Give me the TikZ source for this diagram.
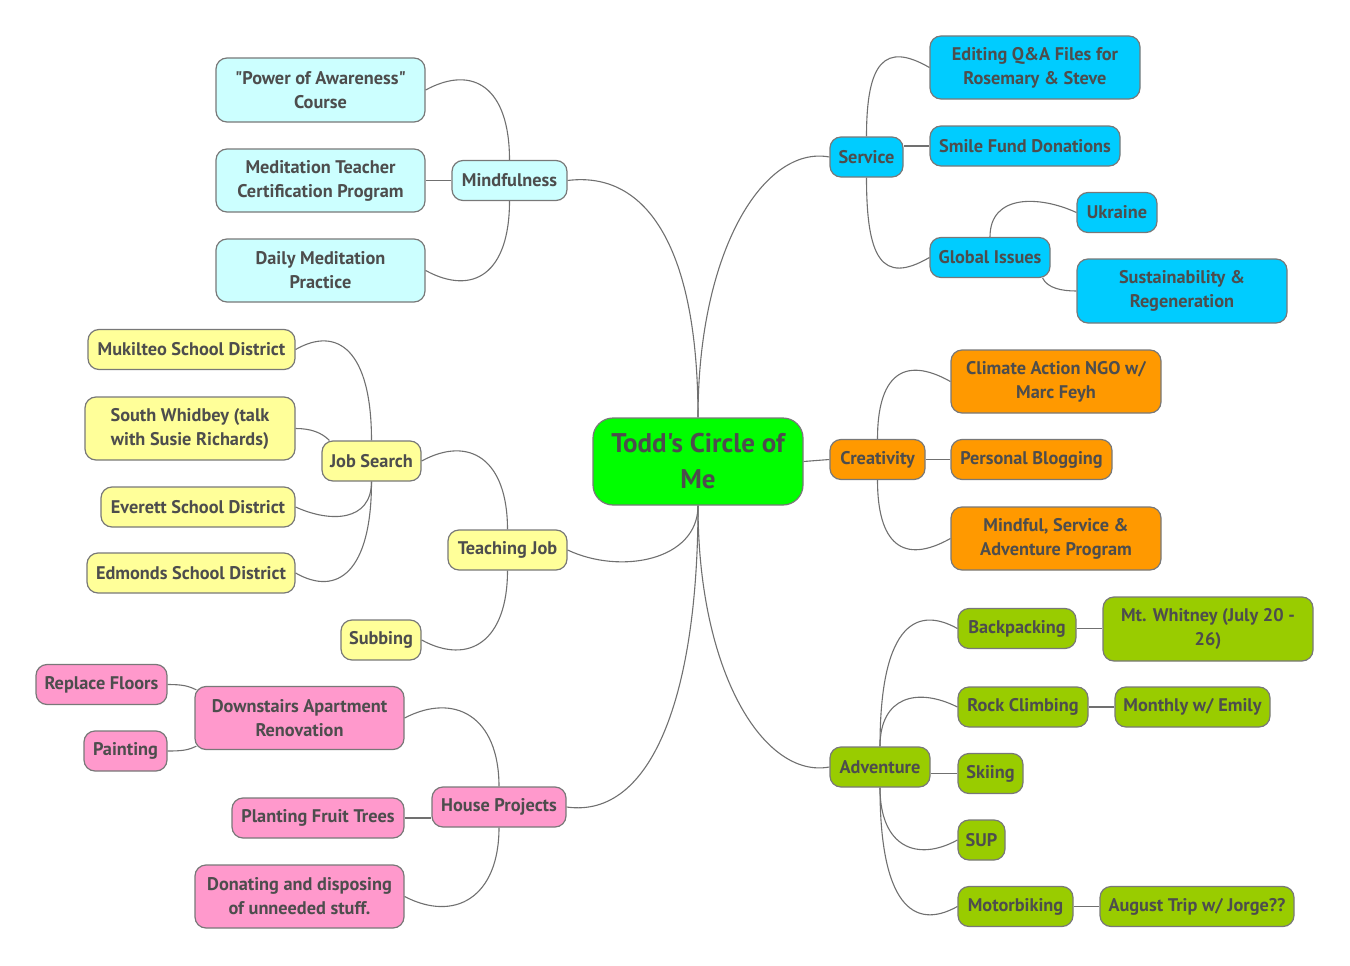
\documentclass[tikz,border=0pt]{standalone}
\usepackage{fontspec}
\setmainfont{PT Sans}[Ligatures=TeXOff]

\definecolor{textgray}{HTML}{4D4D4D}
\definecolor{boxgray}{HTML}{787878}
\definecolor{linegray}{HTML}{707070}
\definecolor{rootgreen}{HTML}{00FF00}
\definecolor{servicecyan}{HTML}{00CCFF}
\definecolor{creativeorange}{HTML}{FF9900}
\definecolor{adventuregreen}{HTML}{99CC00}
\definecolor{mindcyan}{HTML}{CCFFFF}
\definecolor{teachyellow}{HTML}{FFFF99}
\definecolor{housepink}{HTML}{FF99CC}

\begin{document}
\begin{tikzpicture}[x=1pt, y=1pt,
    topic/.style={draw=boxgray, line width=1.2pt, rounded corners=11pt,
        inner sep=0pt, minimum height=40, align=center, text=textgray,
        font=\fontsize{18.3}{24}\selectfont\bfseries},
    rootbox/.style={topic, fill=rootgreen, rounded corners=20pt,
        font=\fontsize{27}{36}\selectfont\bfseries},
    servicebox/.style={topic, fill=servicecyan},
    creativebox/.style={topic, fill=creativeorange},
    adventurebox/.style={topic, fill=adventuregreen},
    mindbox/.style={topic, fill=mindcyan},
    teachbox/.style={topic, fill=teachyellow},
    housebox/.style={topic, fill=housepink},
    link/.style={draw=linegray, line width=1.1pt},
  ]
    \def\hd{63};
    \useasboundingbox (0,0) rectangle (1350,-966);

% centre
    \node[rootbox, minimum width=210, minimum height=87] (root) at (698,-461.5) {Todd's Circle of\\Me};

% service
    \node[servicebox, minimum width=73] (service) at (866.5,-157) {Service};
    \node[servicebox, minimum width=210, minimum height=\hd] (editing) at (1035,-67.5) {Editing Q\&A Files for\\Rosemary \& Steve};
    \node[servicebox, minimum width=190] (smile) at (1025,-146) {Smile Fund Donations};
    \node[servicebox, minimum width=120] (global) at (990,-257.5) {Global Issues};
    \node[servicebox, minimum width=80] (ukraine) at (1117,-212.5) {Ukraine};
    \node[servicebox, minimum width=210, minimum height=64] (sustain) at (1182,-291) {Sustainability \&\\Regeneration};

    \draw[link] (root.north) .. controls +(0,168) and +(-65,12) .. (service.west);
    \draw[link] (service.north) .. controls +(0,74) and +(-45,26) .. (editing.west);
    \draw[link] (service.east |- smile.west) -- (smile.west);
    \draw[link] (service.south) .. controls +(0,-80) and +(-48,-28) .. (global.west);
    \draw[link] (global.north) .. controls +(0,43) and +(-37,17) .. (ukraine.west);
    \draw[link] ([xshift=-8pt]global.south east) .. controls +(5,-10) and +(-15,0) .. (sustain.west);

% creativity
    \node[creativebox, minimum width=95] (creativity) at (877.5,-459.5) {Creativity};
    \node[creativebox, minimum width=210, minimum height=\hd] (climate) at (1056,-381.5) {Climate Action NGO w/\\Marc Feyh};
    \node[creativebox, minimum width=161] (blogging) at (1031.5,-459.5) {Personal Blogging};
    \node[creativebox, minimum width=210, minimum height=\hd] (mindprog) at (1056,-538.5) {Mindful, Service \&\\Adventure Program};

    \draw[link] (root.east) -- (creativity.west);
    \draw[link] (creativity.north) .. controls +(0,62) and +(-48,27) .. (climate.west);
    \draw[link] (creativity.east) -- (blogging.west);
    \draw[link] (creativity.south) .. controls +(0,-63) and +(-48,-27) .. (mindprog.west);

% adventure
    \node[adventurebox, minimum width=100] (adventure) at (880,-767) {Adventure};
    \node[adventurebox, minimum width=118] (backpacking) at (1017,-628.5) {Backpacking};
    \node[adventurebox, minimum width=210, minimum height=64] (whitney) at (1208,-629) {Mt. Whitney (July 20 -\\26)};
    \node[adventurebox, minimum width=130] (rock) at (1023,-707) {Rock Climbing};
    \node[adventurebox, minimum width=155] (monthly) at (1192.5,-707) {Monthly w/ Emily};
    \node[adventurebox, minimum width=65] (skiing) at (990.5,-773.5) {Skiing};
    \node[adventurebox, minimum width=47] (sup) at (981.5,-840) {SUP};
    \node[adventurebox, minimum width=115] (motorbiking) at (1015.5,-906.5) {Motorbiking};
    \node[adventurebox, minimum width=194] (august) at (1197,-906.5) {August Trip w/ Jorge??};

    \draw[link] (root.south) .. controls +(0,-168) and +(-65,-12) .. (adventure.west);
    \draw[link] (adventure.north) .. controls +(0,115) and +(-45,25) .. (backpacking.west);
    \draw[link] (adventure.north) .. controls +(0,50) and +(-40,20) .. (rock.west);
    \draw[link] (adventure.east |- skiing.west) -- (skiing.west);
    \draw[link] (adventure.south) .. controls +(0,-60) and +(-40,-22) .. (sup.west);
    \draw[link] (adventure.south) .. controls +(0,-115) and +(-45,-25) .. (motorbiking.west);
    \draw[link] (backpacking.east) -- (whitney.west |- backpacking.east);
    \draw[link] (rock.east) -- (monthly.west);
    \draw[link] (motorbiking.east) -- (august.west);

% mindfulness
    \node[mindbox, minimum width=115] (mindful) at (509.5,-180.5) {Mindfulness};
    \node[mindbox, minimum width=209, minimum height=64] (power) at (320.5,-90) {"Power of Awareness"\\Course};
    \node[mindbox, minimum width=209, minimum height=\hd] (medteacher) at (320.5,-180.5) {Meditation Teacher\\Certification Program};
    \node[mindbox, minimum width=209, minimum height=\hd] (daily) at (320.5,-270.5) {Daily Meditation\\Practice};

    \draw[link] (root.north) .. controls +(0,168) and +(80,10) .. (mindful.east);
    \draw[link] (mindful.north) .. controls +(0,72) and +(48,26) .. (power.east);
    \draw[link] (mindful.west) -- (medteacher.east);
    \draw[link] (mindful.south) .. controls +(0,-72) and +(48,-26) .. (daily.east);

% teaching job
    \node[teachbox, minimum width=119] (teaching) at (507.5,-550) {Teaching Job};
    \node[teachbox, minimum width=99] (jobsearch) at (371.5,-461) {Job Search};
    \node[teachbox, minimum width=207] (mukilteo) at (191.5,-349.5) {Mukilteo School District};
    \node[teachbox, minimum width=210, minimum height=\hd] (whidbey) at (190,-428.5) {South Whidbey (talk\\with Susie Richards)};
    \node[teachbox, minimum width=194] (everett) at (198,-507) {Everett School District};
    \node[teachbox, minimum width=208] (edmonds) at (191,-573) {Edmonds School District};
    \node[teachbox, minimum width=80] (subbing) at (381,-640) {Subbing};

    \draw[link] (root.south) .. controls +(0,-55) and +(53,-25) .. (teaching.east);
    \draw[link] (teaching.north) .. controls +(0,70) and +(48,26) .. (jobsearch.east);
    \draw[link] (teaching.south) .. controls +(0,-70) and +(48,-26) .. (subbing.east);
    \draw[link] (jobsearch.north) .. controls +(0,90) and +(42,24) .. (mukilteo.east);
    \draw[link] ([xshift=8pt]jobsearch.north west) .. controls +(-8,8) and +(15,0) .. (whidbey.east);
    \draw[link] (jobsearch.south) .. controls +(0,-40) and +(35,-16) .. (everett.east);
    \draw[link] (jobsearch.south) .. controls +(0,-90) and +(42,-24) .. (edmonds.east);

% house projects
    \node[housebox, minimum width=134] (house) at (499,-807) {House Projects};
    \node[housebox, minimum width=209, minimum height=\hd] (downstairs) at (299.5,-718) {Downstairs Apartment\\Renovation};
    \node[housebox, minimum width=131] (replace) at (101.5,-684.5) {Replace Floors};
    \node[housebox, minimum width=83] (painting) at (125.5,-751) {Painting};
    \node[housebox, minimum width=172] (planting) at (318,-818) {Planting Fruit Trees};
    \node[housebox, minimum width=209, minimum height=\hd] (donating) at (299.5,-896.5) {Donating and disposing\\of unneeded stuff.};

    \draw[link] (root.south) .. controls +(0,-190) and +(85,-12) .. (house.east);
    \draw[link] (house.north) .. controls +(0,70) and +(50,26) .. (downstairs.east);
    \draw[link] (house.west |- planting.east) -- (planting.east);
    \draw[link] (house.south) .. controls +(0,-70) and +(50,-26) .. (donating.east);
    \draw[link] (replace.east) .. controls +(15,0) and +(-8,4) .. ([shift={(2pt,-4pt)}]downstairs.north west);
    \draw[link] (painting.east) .. controls +(15,0) and +(-8,-4) .. ([shift={(2pt,4pt)}]downstairs.south west);

\end{tikzpicture}
\end{document}
